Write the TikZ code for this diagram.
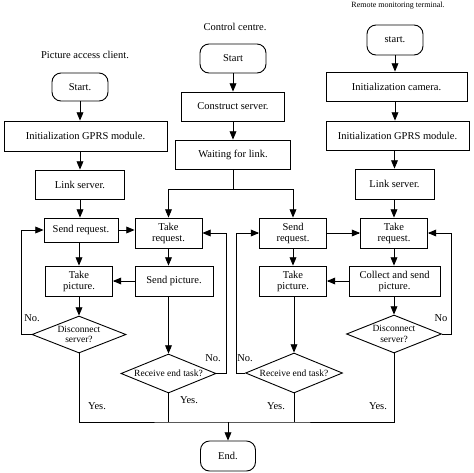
\documentclass[tikz,border=0pt]{standalone}
\usepackage{fontspec}
\setmainfont{Liberation Serif}
\usetikzlibrary{arrows,shapes.geometric}

\tikzset{
  term/.style={draw, rounded corners=9pt, minimum height=28pt, align=center},
  proc/.style={draw, minimum height=30pt, align=center},
  choice/.style={draw, diamond, aspect=2.5, inner sep=0pt, minimum width=95pt, minimum height=38pt, align=center,
    font=\fontsize{9.5}{10.5}\selectfont},
  lbl/.style={inner sep=0pt}
}

\begin{document}
\begin{tikzpicture}[x=1pt, y=-1pt, line width=0.9pt, >=triangle 45,
  font=\fontsize{10.5}{11}\selectfont]
  \useasboundingbox (0,0) rectangle (474,472);
  % titles
  \node[lbl] (tclient) at (85,55) {Picture access client.};
  \node[lbl] (tcentre) at (235,27) {Control centre.};
  \node[lbl, font=\fontsize{8}{9}\selectfont] (tremote) at (398,6) {Remote monitoring terminal.};

  % picture access client
  \node[term, minimum width=56pt] (s1) at (80,87) {Start.};
  \node[proc, minimum width=163pt] (gprs1) at (85.5,136) {Initialization GPRS module.};
  \node[proc, minimum width=89pt, minimum height=29pt] (link1) at (80,184.5) {Link server.};
  \node[proc, minimum width=74pt, minimum height=24pt] (sreq1) at (81,230) {Send request.};
  \node[proc, minimum width=67pt] (tpic1) at (79,281) {Take\\picture.};
  \node[choice, minimum width=94pt, minimum height=37pt] (disc1) at (79,334.5) {Disconnect\\server?};

  % control centre
  \node[term, minimum width=66pt, minimum height=29pt] (s2) at (233,58.5) {Start};
  \node[proc, minimum width=103pt, minimum height=29pt] (cons) at (233,106.5) {Construct server.};
  \node[proc, minimum width=115pt, minimum height=29pt] (wait) at (233,154.5) {Waiting for link.};
  \coordinate (split) at (233,189);
  \node[proc, minimum width=67pt] (treq2) at (168.5,233) {Take\\request.};
  \node[proc, minimum width=78pt] (spic) at (174,281) {Send picture.};
  \node[choice, minimum height=39pt] (rend2) at (168.5,373.5) {Receive end task?};
  \node[proc, minimum width=67pt] (sreq3) at (293,233) {Send\\request.};
  \node[proc, minimum width=67pt] (tpic3) at (293,281) {Take\\picture.};
  \node[choice, minimum width=97pt, minimum height=40pt] (rend3) at (294,373) {Receive end task?};

  % remote monitoring terminal
  \node[term, minimum width=56pt, minimum height=30pt] (s4) at (395,40) {start.};
  \node[proc, minimum width=141pt, minimum height=29pt] (cam) at (396.5,86.5) {Initialization camera.};
  \node[proc, minimum width=143pt, minimum height=29pt] (gprs4) at (397.5,135.5) {Initialization GPRS module.};
  \node[proc, minimum width=79pt] (link4) at (394.5,184) {Link server.};
  \node[proc, minimum width=67pt] (treq4) at (394,233) {Take\\request.};
  \node[proc, minimum width=91pt] (coll) at (394.5,281) {Collect and send\\picture.};
  \node[choice] (disc4) at (394,334) {Disconnect\\server?};

  \coordinate (join) at (228,422);
  \node[term, minimum width=55pt, minimum height=30pt] (end) at (228,456) {End.};

  % yes / no labels
  \node[lbl] (no1) at (32,318) {No.};
  \node[lbl] (yes1) at (97,406) {Yes.};
  \node[lbl] (no2) at (213,358) {No.};
  \node[lbl] (yes2) at (189,400) {Yes.};
  \node[lbl] (no3) at (245,358) {No.};
  \node[lbl] (yes3) at (276,406) {Yes.};
  \node[lbl] (no4) at (441,318) {No};
  \node[lbl] (yes4) at (378,406) {Yes.};

  % straight flow
  \path[->]
  (s1) edge (s1 |- gprs1.north)
  (gprs1.south -| s1) edge (link1)
  (link1) edge (link1 |- sreq1.north)
  (sreq1.south -| tpic1) edge (tpic1)
  (tpic1) edge (disc1)
  (s2) edge (cons)
  (cons) edge (wait)
  (sreq1.east) edge (sreq1.east -| treq2.west)
  (treq2) edge (treq2 |- spic.north)
  (spic.west) edge (spic.west -| tpic1.east)
  (spic.south -| rend2) edge (rend2)
  (sreq3) edge (tpic3)
  (tpic3.south -| rend3) edge (rend3)
  (sreq3) edge (treq4)
  (s4) edge (s4 |- cam.north)
  (cam.south -| s4) edge (s4 |- gprs4.north)
  (gprs4.south -| link4) edge (link4)
  (link4.south -| treq4) edge (treq4)
  (treq4) edge (treq4 |- coll.north)
  (coll.south -| disc4) edge (disc4)
  (coll.west) edge (coll.west -| tpic3.east)
  (join) edge (end)
  ;
  \draw (wait) -- (split);
  \draw[->] (split) -| (treq2);
  \draw[->] (split) -| (sreq3);

  % no loops
  \draw[->] (disc1.west) -- ++(-10,0) |- (sreq1.west);
  \draw[->] (rend2.east) -- ++(10,0) |- (treq2.east);
  \draw[->] (rend3.west) -- ++(-9,0) |- (sreq3.west);
  \draw[->] (disc4.east) -- ++(9,0) |- (treq4.east);

  % yes lines
  \draw (disc1.south) |- (join) -- (disc4 |- join) -- (disc4.south);
  \draw (rend2.south) -- (rend2 |- join);
  \draw (rend3.south) -- (rend3 |- join);
\end{tikzpicture}
\end{document}
